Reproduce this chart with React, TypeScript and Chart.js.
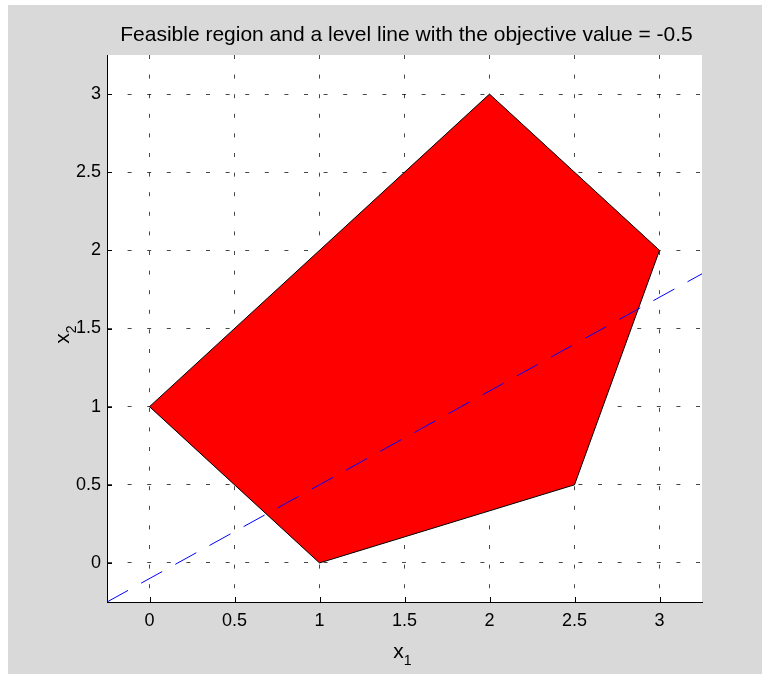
import React, { useEffect, useRef } from "react";
import { Chart, registerables } from "chart.js";

Chart.register(...registerables);

// Feasible region polygon (closed)
const regionX = [0, 2, 3, 2.5, 1, 0];
const regionY = [1, 3, 2, 0.5, 0, 1];
// Level line (objective value = -0.5)
const levelX = [-0.25, 3.25];
const levelY = [-0.25, 1.85];
// Ticks
const xTicks = [0, 0.5, 1, 1.5, 2, 2.5, 3];
const yTicks = [0, 0.5, 1, 1.5, 2, 2.5, 3];
const xTickLabels = ["0", "0.5", "1", "1.5", "2", "2.5", "3"];
const yTickLabels = ["0", "0.5", "1", "1.5", "2", "2.5", "3"];
const xRange = [-0.25, 3.25];
const yRange = [-0.25, 3.25];

const titleText = "Feasible region and a level line with the objective value = -0.5";
const FONT = '"Liberation Sans", Arial, Helvetica, sans-serif';

const decor = {
  id: "decor",
  beforeDraw(chart: any) {
    const { ctx, chartArea: a } = chart;
    ctx.save();
    ctx.fillStyle = "#ffffff";
    ctx.fillRect(a.left, a.top, a.right - a.left, a.bottom - a.top);
    ctx.restore();
  },
  afterDraw(chart: any) {
    const { ctx, chartArea: a, scales } = chart;
    ctx.save();
    // inner tick marks
    ctx.strokeStyle = "#000";
    ctx.lineWidth = 1;
    ctx.beginPath();
    for (const v of xTicks) {
      const px = Math.round(scales.x.getPixelForValue(v)) + 0.5;
      ctx.moveTo(px, a.bottom);
      ctx.lineTo(px, a.bottom - 5);
    }
    for (const v of yTicks) {
      const py = Math.round(scales.y.getPixelForValue(v)) + 0.5;
      ctx.moveTo(a.left, py);
      ctx.lineTo(a.left + 5, py);
    }
    ctx.stroke();

    ctx.fillStyle = "#000";
    // title
    ctx.font = `21px ${FONT}`;
    ctx.textAlign = "center";
    ctx.textBaseline = "alphabetic";
    ctx.fillText(titleText, (a.left + a.right) / 2 + 2, a.top - 14);

    // x label with subscript
    ctx.textAlign = "left";
    ctx.font = `21px ${FONT}`;
    const wx = ctx.measureText("x").width;
    ctx.font = `14px ${FONT}`;
    const w1 = ctx.measureText("1").width;
    const totX = wx + w1;
    const cx = (a.left + a.right) / 2 - 2;
    ctx.font = `21px ${FONT}`;
    ctx.fillText("x", cx - totX / 2, a.bottom + 56);
    ctx.font = `14px ${FONT}`;
    ctx.fillText("1", cx - totX / 2 + wx, a.bottom + 63);

    // y label rotated with subscript
    ctx.font = `14px ${FONT}`;
    const w2 = ctx.measureText("2").width;
    const totY = wx + w2;
    const cy = (a.top + a.bottom) / 2 + 6;
    ctx.translate(a.left - 38, cy);
    ctx.rotate(-Math.PI / 2);
    ctx.font = `21px ${FONT}`;
    ctx.fillText("x", -totY / 2, 0);
    ctx.font = `14px ${FONT}`;
    ctx.fillText("2", -totY / 2 + wx, 7);
    ctx.restore();
  },
};

export default function App() {
  const ref = useRef<HTMLCanvasElement | null>(null);
  useEffect(() => {
    if (!ref.current) return;
    const chart = new Chart(ref.current, {
      type: "scatter",
      data: {
        datasets: [
          {
            data: levelX.map((x, i) => ({ x, y: levelY[i] })),
            showLine: true,
            borderColor: "#0000ff",
            borderWidth: 1,
            borderDash: [24, 15],
            pointRadius: 0,
            fill: false,
            tension: 0,
          },
          {
            data: regionX.map((x, i) => ({ x, y: regionY[i] })),
            showLine: true,
            borderColor: "#000000",
            borderWidth: 1,
            backgroundColor: "#ff0000",
            pointRadius: 0,
            fill: "shape",
            tension: 0,
          },
        ],
      },
      options: {
        responsive: false,
        animation: false,
        events: [],
        layout: { padding: { left: 0, top: 50, right: 60, bottom: 0 } },
        plugins: {
          legend: { display: false },
          tooltip: { enabled: false },
          title: { display: false },
        },
        scales: {
          x: {
            type: "linear",
            min: xRange[0],
            max: xRange[1],
            afterFit: (s: any) => {
              s.height = 72;
            },
            afterBuildTicks: (s: any) => {
              s.ticks = xTicks.map((v) => ({ value: v }));
            },
            ticks: {
              padding: 8,
              color: "#000",
              font: { family: FONT, size: 18 },
              maxRotation: 0,
              callback: (v: any) => {
                const i = xTicks.indexOf(Number(v));
                return i >= 0 ? xTickLabels[i] : "";
              },
            },
            grid: {
              color: "rgba(0,0,0,0.72)",
              lineWidth: 1,
              drawTicks: false,
            },
            border: { display: true, color: "#000", width: 1, dash: [4, 15.6] },
          },
          y: {
            type: "linear",
            min: yRange[0],
            max: yRange[1],
            afterFit: (s: any) => {
              s.width = 99;
            },
            afterBuildTicks: (s: any) => {
              s.ticks = yTicks.map((v) => ({ value: v }));
            },
            ticks: {
              padding: 6,
              color: "#000",
              font: { family: FONT, size: 18 },
              callback: (v: any) => {
                const i = yTicks.indexOf(Number(v));
                return i >= 0 ? yTickLabels[i] : "";
              },
            },
            grid: {
              color: "rgba(0,0,0,0.72)",
              lineWidth: 1,
              drawTicks: false,
            },
            border: { display: true, color: "#000", width: 1, dash: [4, 15.6] },
          },
        },
      },
      plugins: [decor],
    });
    return () => chart.destroy();
  }, []);

  return (
    <div
      style={{
        position: "absolute",
        left: 8,
        top: 5,
        width: 754,
        height: 669,
        background: "#d9d9d9",
      }}
    >
      <canvas ref={ref} width={754} height={669} style={{ display: "block" }} />
    </div>
  );
}
